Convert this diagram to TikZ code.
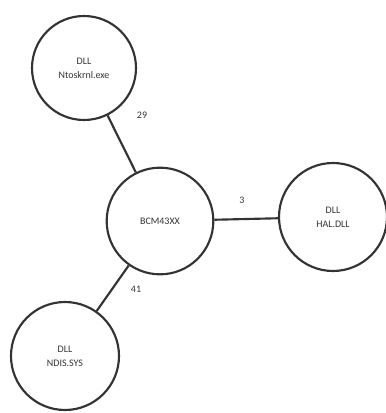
\documentclass[tikz,border=0pt]{standalone}
\usepackage{fontspec}
\setmainfont{Carlito}
\begin{document}
\begin{tikzpicture}[x=0.75pt,y=-0.75pt,
  dll/.style={circle,draw=black!80,line width=1.6pt,minimum size=78pt,inner sep=0pt,align=center,font=\fontsize{7.5}{10.5}\selectfont,text=black!80},
  link/.style={draw=black!80,line width=1.6pt},
  lbl/.style={font=\fontsize{7.5}{8}\selectfont,text=black!80,inner sep=1pt}]
\useasboundingbox (0,0) rectangle (385,413);
\node[dll] (nt) at (84,68) {DLL\\Ntoskrnl.exe};
\node[dll,minimum size=80pt] (bcm) at (160,221) {BCM43XX};
\node[dll,minimum size=81pt] (hal) at (333,217) {DLL\\HAL.DLL};
\node[dll,minimum size=81pt] (ndis) at (65,356) {DLL\\NDIS.SYS};
\draw[link] (nt) -- (bcm);
\draw[link] (bcm) -- (hal);
\draw[link] (bcm) -- (ndis);
\node[lbl] (l29) at (142,115) {29};
\node[lbl] (l3) at (242,200) {3};
\node[lbl] (l41) at (136,289) {41};
\end{tikzpicture}
\end{document}
